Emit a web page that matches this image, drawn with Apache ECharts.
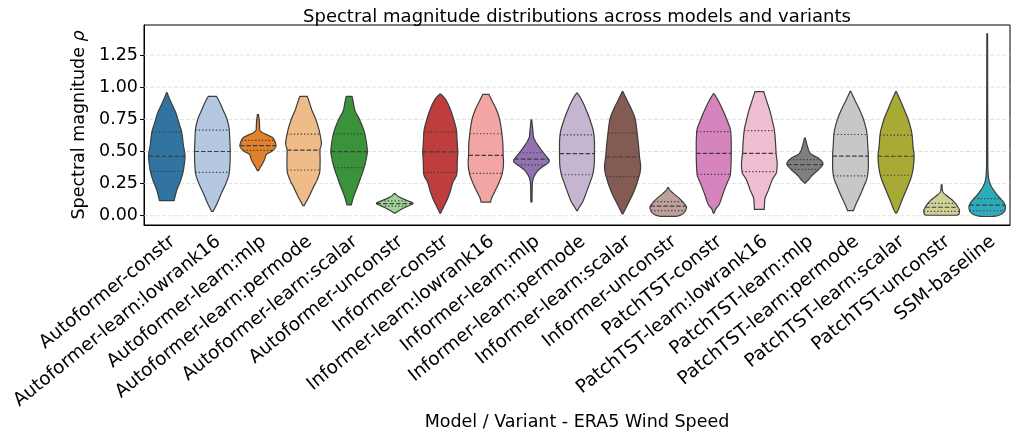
<!DOCTYPE html>
<html><head><meta charset="utf-8">
<script src="https://cdn.jsdelivr.net/npm/echarts@6/dist/echarts.min.js"></script>
<style>html,body{margin:0;padding:0;background:#fff}#c{width:1017px;height:436px}</style>
</head><body><div id="c"></div>
<script>
const categories = ['Autoformer-constr','Autoformer-learn:lowrank16','Autoformer-learn:mlp','Autoformer-learn:permode','Autoformer-learn:scalar','Autoformer-unconstr','Informer-constr','Informer-learn:lowrank16','Informer-learn:mlp','Informer-learn:permode','Informer-learn:scalar','Informer-unconstr','PatchTST-constr','PatchTST-learn:lowrank16','PatchTST-learn:mlp','PatchTST-learn:permode','PatchTST-learn:scalar','PatchTST-unconstr','SSM-baseline'];
const baseColors = ['#1f77b4','#aec7e8','#ff7f0e','#ffbb78','#2ca02c','#98df8a','#d62728','#ff9896','#9467bd','#c5b0d5','#8c564b','#c49c94','#e377c2','#f7b6d2','#7f7f7f','#c7c7c7','#bcbd22','#dbdb8d','#17becf'];
const q3 = [0.651,0.666,0.586,0.635,0.637,0.115,0.651,0.638,0.49,0.629,0.644,0.11,0.655,0.662,0.437,0.632,0.627,0.097,0.133];
const median = [0.462,0.500,0.545,0.511,0.499,0.095,0.497,0.469,0.44,0.483,0.457,0.075,0.485,0.485,0.398,0.464,0.463,0.066,0.082];
const q1 = [0.345,0.337,0.508,0.356,0.375,0.075,0.338,0.33,0.395,0.319,0.304,0.04,0.322,0.343,0.36,0.31,0.315,0.034,0.039];
// density profiles: [value, relative width] from min to max
const densityProfiles = [
 [[0.117,0.40],[0.20,0.55],[0.28,0.77],[0.345,0.90],[0.40,0.96],[0.46,1.0],[0.55,0.91],[0.65,0.82],[0.72,0.67],[0.80,0.5],[0.877,0.25],[0.916,0.13],[0.957,0.02]],
 [[0.034,0.04],[0.099,0.27],[0.176,0.5],[0.254,0.75],[0.337,0.93],[0.42,0.97],[0.50,0.98],[0.58,0.96],[0.666,0.93],[0.747,0.81],[0.825,0.58],[0.903,0.33],[0.928,0.22]],
 [[0.35,0.03],[0.38,0.14],[0.41,0.27],[0.445,0.38],[0.475,0.45],[0.50,0.74],[0.525,0.93],[0.545,0.99],[0.57,0.95],[0.605,0.82],[0.63,0.5],[0.65,0.22],[0.67,0.1],[0.73,0.08],[0.786,0.03]],
 [[0.078,0.03],[0.125,0.21],[0.176,0.39],[0.23,0.57],[0.28,0.75],[0.355,0.9],[0.436,0.91],[0.51,0.9],[0.56,0.98],[0.636,0.9],[0.747,0.68],[0.825,0.45],[0.903,0.27],[0.928,0.2]],
 [[0.085,0.12],[0.15,0.25],[0.228,0.46],[0.306,0.66],[0.372,0.82],[0.436,0.93],[0.50,1.0],[0.56,0.96],[0.638,0.86],[0.747,0.58],[0.825,0.31],[0.903,0.2],[0.928,0.16]],
 [[0.021,0.03],[0.04,0.25],[0.06,0.5],[0.08,0.8],[0.097,1.0],[0.115,0.75],[0.135,0.4],[0.155,0.15],[0.172,0.03]],
 [[0.021,0.02],[0.073,0.2],[0.125,0.38],[0.19,0.55],[0.267,0.71],[0.30,0.85],[0.338,0.92],[0.41,0.93],[0.495,0.96],[0.565,0.93],[0.65,0.9],[0.747,0.74],[0.825,0.56],[0.903,0.3],[0.947,0.03]],
 [[0.106,0.26],[0.13,0.3],[0.19,0.5],[0.254,0.71],[0.33,0.9],[0.384,0.96],[0.41,0.97],[0.47,0.95],[0.54,0.94],[0.638,0.88],[0.747,0.76],[0.825,0.58],[0.903,0.31],[0.944,0.17]],
 [[0.108,0.03],[0.25,0.05],[0.29,0.1],[0.32,0.2],[0.35,0.35],[0.38,0.6],[0.41,0.9],[0.425,0.98],[0.465,0.8],[0.50,0.6],[0.54,0.4],[0.58,0.22],[0.62,0.1],[0.65,0.09],[0.70,0.05],[0.747,0.02]],
 [[0.04,0.02],[0.06,0.1],[0.111,0.32],[0.176,0.5],[0.254,0.7],[0.32,0.86],[0.41,0.95],[0.488,0.96],[0.56,0.96],[0.63,0.93],[0.747,0.71],[0.825,0.5],[0.903,0.25],[0.955,0.02]],
 [[0.014,0.02],[0.034,0.09],[0.086,0.27],[0.15,0.5],[0.228,0.73],[0.30,0.89],[0.33,0.95],[0.384,0.99],[0.457,0.93],[0.54,0.88],[0.644,0.8],[0.747,0.7],[0.825,0.5],[0.903,0.23],[0.965,0.02]],
 [[-0.005,0.45],[0.005,0.68],[0.02,0.85],[0.04,0.95],[0.066,1.0],[0.098,0.86],[0.137,0.6],[0.176,0.27],[0.2,0.1],[0.218,0.02]],
 [[0.02,0.02],[0.05,0.1],[0.086,0.29],[0.176,0.52],[0.254,0.73],[0.32,0.91],[0.41,0.95],[0.488,0.96],[0.56,0.96],[0.657,0.93],[0.747,0.72],[0.825,0.49],[0.903,0.22],[0.949,0.02]],
 [[0.05,0.27],[0.125,0.3],[0.2,0.5],[0.28,0.71],[0.343,0.95],[0.40,0.98],[0.488,0.92],[0.565,0.89],[0.662,0.83],[0.747,0.7],[0.825,0.56],[0.903,0.38],[0.965,0.24]],
 [[0.254,0.02],[0.28,0.2],[0.319,0.43],[0.358,0.74],[0.405,0.99],[0.449,0.74],[0.47,0.45],[0.488,0.29],[0.539,0.14],[0.604,0.02]],
 [[0.04,0.16],[0.086,0.29],[0.15,0.5],[0.228,0.73],[0.306,0.93],[0.384,0.98],[0.462,0.98],[0.54,0.95],[0.633,0.91],[0.747,0.72],[0.825,0.5],[0.903,0.23],[0.967,0.02]],
 [[0.021,0.02],[0.04,0.1],[0.086,0.23],[0.15,0.41],[0.228,0.64],[0.314,0.86],[0.384,0.95],[0.462,0.99],[0.54,0.93],[0.628,0.88],[0.747,0.67],[0.825,0.45],[0.903,0.22],[0.965,0.02]],
 [[0.004,0.85],[0.012,0.95],[0.04,0.98],[0.06,0.92],[0.08,0.84],[0.10,0.73],[0.12,0.6],[0.14,0.42],[0.16,0.25],[0.18,0.1],[0.2,0.04],[0.241,0.02]],
 [[-0.006,0.3],[0.0,0.55],[0.02,0.85],[0.045,0.98],[0.07,1.0],[0.1,0.92],[0.13,0.75],[0.16,0.56],[0.19,0.4],[0.23,0.22],[0.26,0.13],[0.29,0.08],[0.33,0.05],[0.4,0.035],[0.7,0.03],[1.0,0.025],[1.416,0.02]]
];
const yTicks = [0, 0.25, 0.5, 0.75, 1.0, 1.25];

function desaturate(hex, prop){
  const r=parseInt(hex.slice(1,3),16)/255,g=parseInt(hex.slice(3,5),16)/255,b=parseInt(hex.slice(5,7),16)/255;
  const mx=Math.max(r,g,b),mn=Math.min(r,g,b);let h=0,s=0;const l=(mx+mn)/2;
  if(mx!==mn){const d=mx-mn;s=l>0.5?d/(2-mx-mn):d/(mx+mn);
    if(mx===r)h=((g-b)/d+(g<b?6:0));else if(mx===g)h=(b-r)/d+2;else h=(r-g)/d+4;h/=6;}
  s*=prop;
  function hue2rgb(p,q,t){if(t<0)t+=1;if(t>1)t-=1;if(t<1/6)return p+(q-p)*6*t;if(t<1/2)return q;if(t<2/3)return p+(q-p)*(2/3-t)*6;return p;}
  let R,G,B;if(s===0){R=G=B=l;}else{const q=l<0.5?l*(1+s):l+s-l*s,p=2*l-q;R=hue2rgb(p,q,h+1/3);G=hue2rgb(p,q,h);B=hue2rgb(p,q,h-1/3);}
  return 'rgb('+Math.round(R*255)+','+Math.round(G*255)+','+Math.round(B*255)+')';
}
const colors = baseColors.map(c=>desaturate(c,0.75));

// monotone cubic (PCHIP) resampling of width as function of value
function pchip(p){
  const n=p.length,x=p.map(a=>a[0]),y=p.map(a=>a[1]);
  const h=[],d=[];for(let k=0;k<n-1;k++){h.push(x[k+1]-x[k]);d.push((y[k+1]-y[k])/h[k]);}
  const m=new Array(n).fill(0);
  m[0]=d[0];m[n-1]=d[n-2];
  for(let k=1;k<n-1;k++){
    if(d[k-1]*d[k]<=0)m[k]=0;else{const w1=2*h[k]+h[k-1],w2=h[k]+2*h[k-1];m[k]=(w1+w2)/(w1/d[k-1]+w2/d[k]);}
  }
  const out=[];
  for(let k=0;k<n-1;k++){
    const N=10;
    for(let j=0;j<N;j++){
      const t=j/N,hh=h[k];
      const h00=2*t*t*t-3*t*t+1,h10=t*t*t-2*t*t+t,h01=-2*t*t*t+3*t*t,h11=t*t*t-t*t;
      out.push([x[k]+t*hh, Math.max(0,h00*y[k]+h10*hh*m[k]+h01*y[k+1]+h11*hh*m[k+1])]);
    }
  }
  out.push(p[n-1]);
  return out;
}
function widthAt(p,v){
  for(let k=0;k<p.length-1;k++){
    if(v>=p[k][0]&&v<=p[k+1][0]){const t=(v-p[k][0])/(p[k+1][0]-p[k][0]);return p[k][1]+t*(p[k+1][1]-p[k][1]);}
  }
  return 0;
}
const smoothed = densityProfiles.map(pchip);
const LINE='#3d3d3d';
function renderViolin(params, api){
  const i=params.dataIndex;
  const prof=smoothed[i];
  const band=api.size([1,0])[0];
  const half=band*0.4;
  const cx=api.coord([i,0])[0];
  const left=prof.map(([v,w])=>[cx-w*half, api.coord([i,v])[1]]);
  const right=prof.slice().reverse().map(([v,w])=>[cx+w*half, api.coord([i,v])[1]]);
  const children=[{type:'polygon',z2:1,shape:{points:left.concat(right)},style:{fill:colors[i],stroke:LINE,lineWidth:1.2}}];
  const qs=[[q1[i],[1.3,2.1]],[median[i],[4.5,2]],[q3[i],[1.3,2.1]]];
  qs.forEach(([q,dash])=>{
    const w=widthAt(prof,q)*half;const y=api.coord([i,q])[1];
    children.push({type:'polyline',z2:10,shape:{points:[[cx-w,y],[cx+w,y]]},style:{stroke:LINE,fill:null,lineWidth:1.2,lineDash:dash}});
  });
  return {type:'group',children};
}
function renderGrid(params, api){
  const cs=params.coordSys;
  const y=api.coord([0,api.value(1)])[1];
  return {type:'line',shape:{x1:cs.x,y1:y,x2:cs.x+cs.width,y2:y},style:{stroke:'#d9d9d9',lineWidth:0.8,lineDash:[4,2]}};
}
const chart=echarts.init(document.getElementById('c'),null,{renderer:'canvas'});
const FONT='DejaVu Sans';
chart.setOption({
  animation:false,
  textStyle:{fontFamily:FONT},
  title:{text:'Spectral magnitude distributions across models and variants',left:572,top:3,textAlign:'center',textStyle:{fontFamily:FONT,fontSize:18,fontWeight:'normal',color:'#000'}},
  grid:{left:144,right:7,top:25,bottom:211,show:true,borderColor:'#000',borderWidth:1,backgroundColor:'transparent'},
  xAxis:{type:'category',data:categories,boundaryGap:true,
    axisLine:{onZero:false,lineStyle:{color:'#000',width:1}},
    axisTick:{alignWithLabel:true,length:4,lineStyle:{color:'#000'}},
    axisLabel:{rotate:39,interval:0,fontSize:18.5,color:'#000',margin:7,verticalAlign:'top',align:'right',fontFamily:FONT},
    name:'Model / Variant - ERA5 Wind Speed',nameLocation:'middle',nameGap:185,
    nameTextStyle:{fontSize:17.5,color:'#000',fontFamily:FONT,verticalAlign:'top'}},
  yAxis:{type:'value',min:-0.072,max:1.484,
    axisLine:{show:true,lineStyle:{color:'#000',width:1}},
    axisTick:{show:true,length:4,customValues:yTicks,lineStyle:{color:'#000'}},
    axisLabel:{customValues:yTicks,formatter:v=>v.toFixed(2),fontSize:17.5,color:'#000',margin:6,fontFamily:FONT},
    splitLine:{show:false},
    name:'{a|Spectral magnitude }{b|ρ}',nameLocation:'middle',nameGap:50,nameRotate:90,
    nameTextStyle:{fontSize:17.5,color:'#000',fontFamily:FONT,rich:{a:{fontSize:17.5,fontFamily:FONT,color:'#000'},b:{fontSize:17.5,fontFamily:FONT,fontStyle:'italic',color:'#000'}}}},
  series:[
    {type:'custom',z:1,silent:true,renderItem:renderGrid,data:yTicks.map(v=>[0,v]),encode:{x:0,y:1}},
    {type:'custom',z:3,silent:true,renderItem:renderViolin,data:categories.map((c,i)=>[i]),encode:{x:0}}
  ]
});
</script></body></html>
